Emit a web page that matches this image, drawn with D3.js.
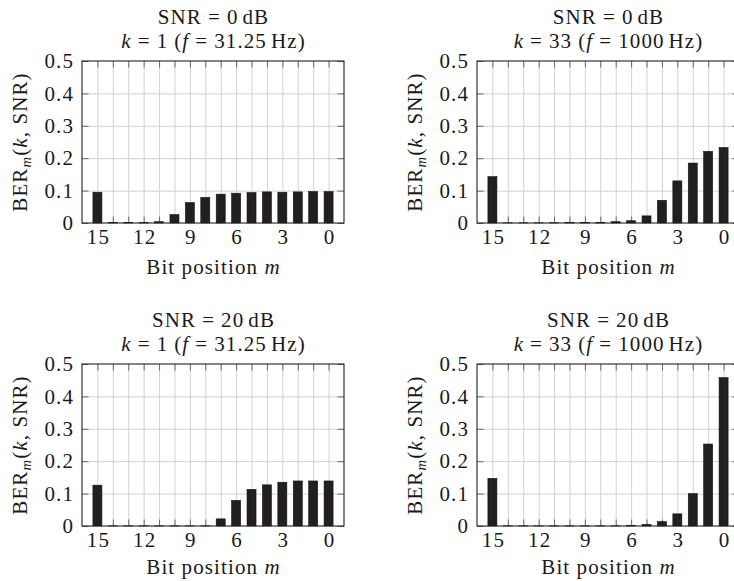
<!DOCTYPE html>
<html>
<head>
<meta charset="utf-8">
<script src="https://cdn.jsdelivr.net/npm/d3@7"></script>
<style>
  html, body { margin: 0; padding: 0; background: #fff; }
  svg { display: block; }
  text { font-family: "Liberation Serif", "Times New Roman", serif; fill: #1a1a1a; letter-spacing: 1.1px; }
</style>
</head>
<body>
<svg id="fig" width="734" height="581"></svg>
<script>
// Bit positions, most significant first
const bits = [15, 14, 13, 12, 11, 10, 9, 8, 7, 6, 5, 4, 3, 2, 1, 0];
const xTickLabels = [15, 12, 9, 6, 3, 0];
const yTicks = [0, 0.1, 0.2, 0.3, 0.4, 0.5];

// Bit error rate per bit position
const berSnr0K1 = [0.095, 0.001, 0.001, 0.001, 0.004, 0.026, 0.063, 0.079, 0.089, 0.092, 0.094, 0.096, 0.095, 0.096, 0.097, 0.097];
const berSnr0K33 = [0.143, 0.0005, 0.0005, 0.0005, 0.0008, 0.001, 0.001, 0.002, 0.004, 0.007, 0.022, 0.070, 0.130, 0.185, 0.221, 0.233];
const berSnr20K1 = [0.126, 0.0005, 0.0005, 0.0005, 0.0005, 0.0005, 0.0005, 0.0005, 0.022, 0.079, 0.113, 0.127, 0.135, 0.139, 0.139, 0.139];
const berSnr20K33 = [0.147, 0.0005, 0.0005, 0.0005, 0.0005, 0.0005, 0.0005, 0.0005, 0.0005, 0.001, 0.005, 0.0135, 0.0375, 0.100, 0.253, 0.458];

const panels = [
  { snr: "0", k: "1", f: "31.25", values: berSnr0K1, left: 82, top: 61, xlab: 51 },
  { snr: "0", k: "33", f: "1000", values: berSnr0K33, left: 477, top: 61, xlab: 51 },
  { snr: "20", k: "1", f: "31.25", values: berSnr20K1, left: 82, top: 364, xlab: 48 },
  { snr: "20", k: "33", f: "1000", values: berSnr20K33, left: 477, top: 364, xlab: 48 }
];

const W = 262, H = 162, FS = 21;
const svg = d3.select("#fig");

function drawPanel(p) {
  const g = svg.append("g").attr("transform", `translate(${p.left},${p.top})`);
  const x = d3.scaleLinear().domain([16, -1]).range([0, W]);
  const y = d3.scaleLinear().domain([0, 0.5]).range([H, 0]);

  // grid
  g.append("g").attr("transform", `translate(0,${H})`)
    .call(d3.axisBottom(x).tickValues(bits).tickSize(-H).tickFormat(""))
    .call(a => a.select(".domain").remove())
    .call(a => a.selectAll("line").attr("stroke", "#d2d2d2").attr("stroke-width", 1));
  g.append("g")
    .call(d3.axisLeft(y).tickValues([0.1, 0.2, 0.3, 0.4]).tickSize(-W).tickFormat(""))
    .call(a => a.select(".domain").remove())
    .call(a => a.selectAll("line").attr("stroke", "#d2d2d2").attr("stroke-width", 1));

  // inner tick marks on all four sides
  const tk = 6.5;
  const tickStyle = a => {
    a.select(".domain").remove();
    a.selectAll("line").attr("stroke", "#6a6a6a").attr("stroke-width", 1);
  };
  g.append("g").attr("transform", `translate(0,${H})`)
    .call(d3.axisBottom(x).tickValues(bits).tickSize(-tk).tickFormat("")).call(tickStyle);
  g.append("g")
    .call(d3.axisTop(x).tickValues(bits).tickSize(-tk).tickFormat("")).call(tickStyle);
  g.append("g")
    .call(d3.axisLeft(y).tickValues(yTicks).tickSize(-tk).tickFormat("")).call(tickStyle);
  g.append("g").attr("transform", `translate(${W},0)`)
    .call(d3.axisRight(y).tickValues(yTicks).tickSize(-tk).tickFormat("")).call(tickStyle);

  // bars
  g.selectAll("rect.bar").data(bits.map((b, i) => ({ b, v: p.values[i] })))
    .join("rect").attr("class", "bar")
    .attr("x", d => x(d.b) - 4.5)
    .attr("width", 9)
    .attr("y", d => y(d.v))
    .attr("height", d => y(0) - y(d.v))
    .attr("fill", "#231f20")
    .attr("stroke", "#111")
    .attr("stroke-width", 0.6);

  // frame
  g.append("rect").attr("width", W).attr("height", H)
    .attr("fill", "none").attr("stroke", "#222").attr("stroke-width", 1.1);

  // tick labels
  g.append("g").attr("transform", `translate(0,${H})`)
    .call(d3.axisBottom(x).tickValues(xTickLabels).tickSize(0).tickPadding(6.5).tickFormat(d3.format("d")))
    .call(a => a.select(".domain").remove())
    .call(a => a.selectAll("text").attr("font-size", FS).attr("font-family", null)
      .attr("fill", "#1a1a1a").attr("dx", "0.5"));
  g.append("g")
    .call(d3.axisLeft(y).tickValues(yTicks).tickSize(0).tickPadding(8)
      .tickFormat(d => d === 0 ? "0" : d3.format(".1f")(d)))
    .call(a => a.select(".domain").remove())
    .call(a => a.selectAll("text").attr("font-size", FS).attr("font-family", null).attr("fill", "#1a1a1a"));

  // x label
  const xl = g.append("text").attr("x", W / 2 + 0.5).attr("y", H + p.xlab)
    .attr("text-anchor", "middle").attr("font-size", FS);
  xl.append("tspan").text("Bit position ");
  xl.append("tspan").attr("font-style", "italic").text("m");

  // y label
  const yl = g.append("text")
    .attr("transform", `translate(-55,${H / 2}) rotate(-90)`)
    .attr("text-anchor", "middle").attr("font-size", FS);
  yl.append("tspan").text("BER");
  yl.append("tspan").attr("font-style", "italic").attr("font-size", FS * 0.7).attr("dy", 3.5).text("m");
  yl.append("tspan").attr("dy", -3.5).text("(");
  yl.append("tspan").attr("font-style", "italic").text("k");
  yl.append("tspan").text(", SNR)");

  // title
  const t1 = g.append("text").attr("x", W / 2 + 0.5).attr("y", -37)
    .attr("text-anchor", "middle").attr("font-size", FS);
  t1.append("tspan").text("SNR");
  t1.append("tspan").attr("dx", 6).text("=");
  t1.append("tspan").attr("dx", 6).text(p.snr);
  t1.append("tspan").attr("dx", 4).text("dB");

  const t2 = g.append("text").attr("x", W / 2 + 0.5).attr("y", -13.5)
    .attr("text-anchor", "middle").attr("font-size", FS);
  t2.append("tspan").attr("font-style", "italic").text("k");
  t2.append("tspan").attr("dx", 6).text("=");
  t2.append("tspan").attr("dx", 6).text(p.k);
  t2.append("tspan").attr("dx", 6).text("(");
  t2.append("tspan").attr("font-style", "italic").text("f");
  t2.append("tspan").attr("dx", 6).text("=");
  t2.append("tspan").attr("dx", 6).text(p.f);
  t2.append("tspan").attr("dx", 4).text("Hz)");
}

panels.forEach(drawPanel);
</script>
</body>
</html>
